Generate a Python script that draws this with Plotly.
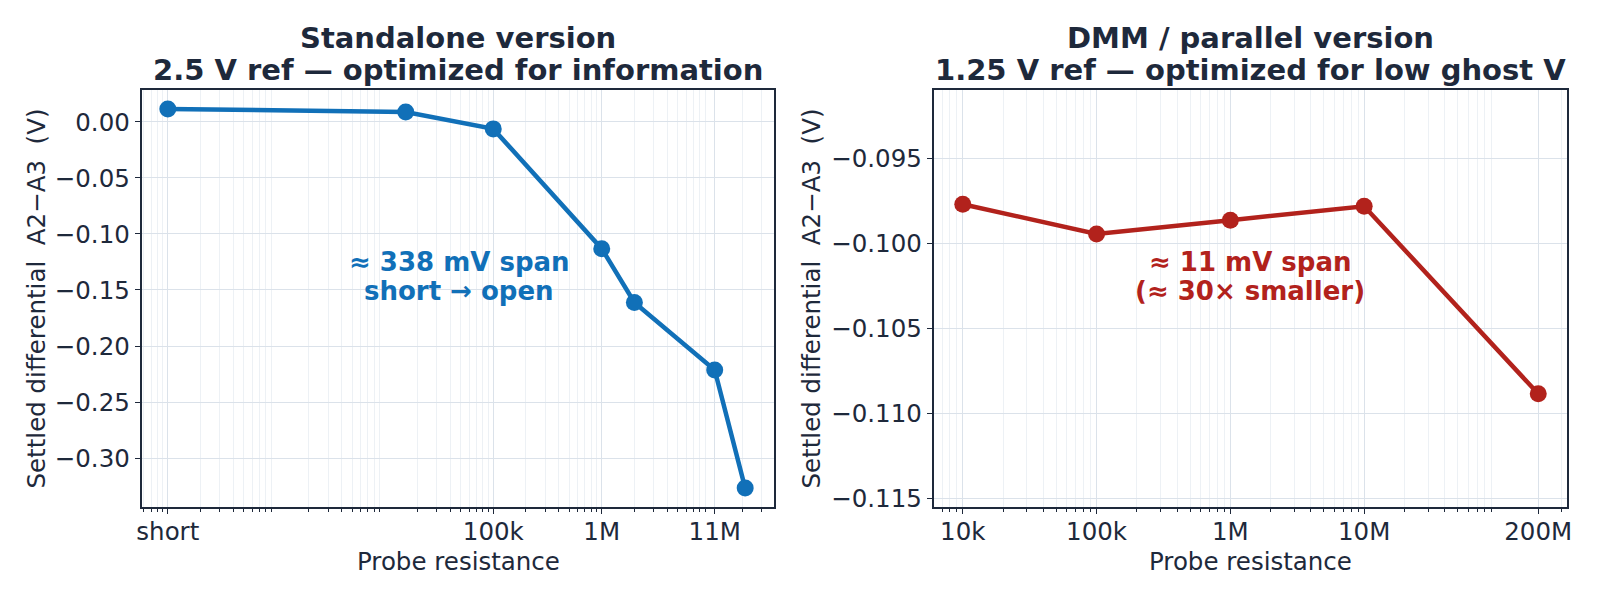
import plotly.graph_objects as go

# standalone version (2.5 V ref)
r_std = [100, 15600, 100e3, 1e6, 2e6, 11e6, 21e6]
v_std = [0.0116, 0.0089, -0.0062, -0.1131, -0.1611, -0.2214, -0.3268]
std_tickvals = [100, 100e3, 1e6, 11e6]
std_ticktext = ['short', '100k', '1M', '11M']

# DMM / parallel version (1.25 V ref)
r_dmm = [10e3, 100e3, 1e6, 10e6, 200e6]
v_dmm = [-0.09767, -0.09942, -0.09861, -0.09779, -0.10884]
dmm_tickvals = [10e3, 100e3, 1e6, 10e6, 200e6]
dmm_ticktext = ['10k', '100k', '1M', '10M', '200M']

BLUE = '#1170b8'
RED = '#b2221c'
INK = '#1e293b'
GRID = '#dbe2ea'
MINOR = '#edf1f5'
FONT = 'DejaVu Sans'

# page body has an 8px margin, so the figure is a bit smaller and shifted
OFF = 8
W, H = 1600 - 2 * OFF, 600 - 2 * OFF


def px(x):
    return (x - OFF) / W


def py(y):
    return 1 - (y - OFF) / H


def minors(lo_dec, hi_dec, skip=()):
    vals = []
    for d in range(lo_dec, hi_dec + 1):
        for m in range(2, 10):
            v = m * 10 ** d
            if v not in skip:
                vals.append(v)
    return vals


fig = go.Figure()

fig.add_trace(go.Scatter(x=r_std, y=v_std, mode='lines+markers',
                         line=dict(color=BLUE, width=4.5),
                         marker=dict(color=BLUE, size=17),
                         xaxis='x', yaxis='y', showlegend=False))
fig.add_trace(go.Scatter(x=r_dmm, y=v_dmm, mode='lines+markers',
                         line=dict(color=RED, width=4.5),
                         marker=dict(color=RED, size=17),
                         xaxis='x2', yaxis='y2', showlegend=False))

axis_common = dict(showline=True, mirror=True, linecolor=INK, linewidth=1.5,
                   ticks='outside', ticklen=5.5, tickwidth=1.3, tickcolor=INK,
                   tickfont=dict(size=24.5, color=INK, family=FONT),
                   showgrid=True, gridcolor=GRID, gridwidth=1,
                   zeroline=False, automargin=False)

xl = (142, 774)
xr = (934, 1567)
yt, yb = 90, 507

fig.update_layout(
    width=W, height=H,
    margin=dict(l=0, r=0, t=0, b=0),
    paper_bgcolor='white', plot_bgcolor='white',
    font=dict(family=FONT, color=INK),
    xaxis=dict(axis_common, type='log', domain=[px(xl[0]), px(xl[1])],
               range=[1.762, 7.588], tickmode='array',
               tickvals=std_tickvals, ticktext=std_ticktext, ticklabelstandoff=-4,
               minor=dict(tickmode='array', tickvals=minors(1, 7, skip=(1e7,)),
                          ticks='outside', ticklen=3, tickcolor=INK,
                          showgrid=True, gridcolor=MINOR),
               anchor='y'),
    yaxis=dict(axis_common, domain=[py(yb), py(yt)],
               range=[-0.3437, 0.0285], dtick=0.05, tick0=0, tickformat='.2f',
               anchor='x'),
    xaxis2=dict(axis_common, type='log', domain=[px(xr[0]), px(xr[1])],
                range=[3.785, 8.516], tickmode='array',
                tickvals=dmm_tickvals, ticktext=dmm_ticktext, ticklabelstandoff=-4,
                minor=dict(tickmode='array', tickvals=minors(3, 8, skip=(2e8,)),
                           ticks='outside', ticklen=3, tickcolor=INK,
                           showgrid=True, gridcolor=MINOR),
                anchor='y2'),
    yaxis2=dict(axis_common, domain=[py(yb), py(yt)],
                range=[-0.11551, -0.09094], dtick=0.005, tick0=0, tickformat='.3f',
                anchor='x2'),
)


def label(x, y, txt, size, color=INK, angle=0):
    fig.add_annotation(x=px(x), y=py(y), xref='paper', yref='paper',
                       text=txt, showarrow=False, textangle=angle,
                       xanchor='center', yanchor='middle',
                       font=dict(size=size, color=color, family=FONT))


# titles, one line per annotation to keep the tight line spacing
cl = (xl[0] + xl[1]) / 2
cr = (xr[0] + xr[1]) / 2
label(cl, 38, '<b>Standalone version</b>', 29)
label(cl, 69.5, '<b>2.5 V ref \u2014 optimized for information</b>', 29)
label(cr, 38, '<b>DMM / parallel version</b>', 29)
label(cr, 69.5, '<b>1.25 V ref \u2014 optimized for low ghost V</b>', 29)

# axis titles
ytitle = 'Settled differential\u00a0\u00a0A2\u2212A3\u00a0\u00a0(V)'
label(cl, 561, 'Probe resistance', 24.5)
label(cr, 561, 'Probe resistance', 24.5)
label(36, (yt + yb) / 2, ytitle, 24.5, angle=-90)
label(811, (yt + yb) / 2, ytitle, 24.5, angle=-90)

# span notes
label(459, 262, '<b>\u2248 338 mV span</b>', 26, BLUE)
label(459, 291, '<b>short \u2192 open</b>', 26, BLUE)
label(1250, 262, '<b>\u2248 11 mV span</b>', 26, RED)
label(1250, 291, '<b>(\u2248 30\u00d7 smaller)</b>', 26, RED)

fig.write_html('out.html')
